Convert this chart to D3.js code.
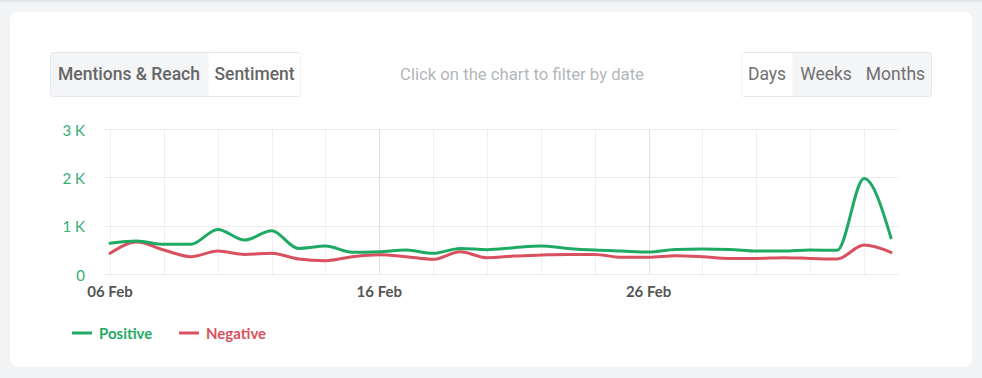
<!DOCTYPE html>
<html>
<head>
<meta charset="utf-8">
<script src="https://cdn.jsdelivr.net/npm/d3@7"></script>
<style>
    html, body { margin: 0; padding: 0; background: #f3f4f6; }
    svg { display: block; }
</style>
</head>
<body>
<svg id="chart" width="982" height="378"></svg>
<script>
"use strict";

// days since 06 Feb
const days = d3.range(0, 30);
const positive = [634, 682, 613, 613, 923, 702, 895, 530, 578, 448,
                  461, 496, 427, 530, 503, 544, 578, 530, 496, 475,
                  455, 509, 516, 509, 475, 475, 496, 489, 1977, 750];
const negative = [428, 660, 496, 358, 475, 406, 428, 310, 275, 358,
                  400, 358, 303, 461, 337, 372, 392, 406, 406, 344,
                  344, 378, 358, 323, 323, 337, 323, 310, 599, 448];
const yTicks = [0, 1000, 2000, 3000];
const xTickDays = [0, 10, 20];
const series = [
    { name: "Positive", values: positive, color: "#1faa64" },
    { name: "Negative", values: negative, color: "#d9505e" }
];
const leftButtons = ["Mentions & Reach", "Sentiment"];
const rightButtons = ["Days", "Weeks", "Months"];

const start = new Date(2023, 1, 6);
const dayDate = d => d3.timeDay.offset(start, d);

const svg = d3.select("#chart");

// top strip + card
svg.append("rect").attr("x", 0).attr("y", 0).attr("width", 982).attr("height", 2).attr("fill", "#e2e4e8");
svg.append("rect")
    .attr("x", 10).attr("y", 12).attr("width", 962).attr("height", 355)
    .attr("rx", 8).attr("fill", "#fff");

// button groups
function buttonGroup(labels, x0, widths, activeIdx, size, weight, color) {
    const g = svg.append("g");
    const total = d3.sum(widths);
    g.append("rect")
        .attr("x", x0 + 0.5).attr("y", 52.5).attr("width", total - 1).attr("height", 44)
        .attr("rx", 3).attr("fill", "#f4f5f7").attr("stroke", "#e6e7ea");
    let x = x0;
    labels.forEach((t, i) => {
        if (i === activeIdx) {
            g.append("rect")
                .attr("x", x + 0.5).attr("y", 53).attr("width", widths[i] - 1).attr("height", 43)
                .attr("rx", 2).attr("fill", "#fff");
        }
        g.append("text")
            .attr("x", x + widths[i] / 2).attr("y", 80)
            .attr("text-anchor", "middle")
            .style("font-family", "Roboto, sans-serif")
            .style("font-size", size)
            .style("font-weight", weight)
            .style("fill", color)
            .text(t);
        x += widths[i];
    });
}
buttonGroup(leftButtons, 50, [158, 93], 1, "17.5px", 500, "#666");
buttonGroup(rightButtons, 741, [52, 66, 73], 0, "17.5px", 400, "#707070");

svg.append("text")
    .attr("x", 522).attr("y", 80)
    .attr("text-anchor", "middle")
    .style("font-family", "Roboto, sans-serif")
    .style("font-size", "16.7px")
    .style("fill", "#b3b6bb")
    .text("Click on the chart to filter by date");

// scales
const x = d3.scaleTime().domain([dayDate(0), dayDate(29)]).range([110, 891]);
const y = d3.scaleLinear().domain([0, 3000]).range([274, 129]);

// grid
const grid = svg.append("g");
grid.selectAll(".hgrid").data(yTicks).enter()
    .append("line")
    .attr("class", "hgrid")
    .attr("x1", 103).attr("x2", 899)
    .attr("y1", d => Math.round(y(d)) + 0.5).attr("y2", d => Math.round(y(d)) + 0.5)
    .attr("stroke", "#ececec");
grid.selectAll(".vgrid").data(d3.range(0, 29, 2)).enter()
    .append("line")
    .attr("class", "vgrid")
    .attr("x1", d => Math.round(x(dayDate(d))) + 0.5).attr("x2", d => Math.round(x(dayDate(d))) + 0.5)
    .attr("y1", 129).attr("y2", 274)
    .attr("stroke", d => (d % 10 === 0 && d > 0) ? "#e0e0e0" : "#efefef");

// y axis labels
svg.selectAll(".ylab").data(yTicks).enter()
    .append("text")
    .attr("class", "ylab")
    .attr("x", 85).attr("y", d => y(d) + 6.5)
    .attr("text-anchor", "end")
    .style("font-family", "Lato, sans-serif")
    .style("font-size", "15px")
    .style("fill", "#33b172")
    .text(d => d === 0 ? "0" : (d / 1000) + " K");

// x axis labels
svg.selectAll(".xlab").data(xTickDays).enter()
    .append("text")
    .attr("class", "xlab")
    .attr("x", d => x(dayDate(d))).attr("y", 297)
    .attr("text-anchor", "middle")
    .style("font-family", "Lato, sans-serif")
    .style("font-size", "15px")
    .style("font-weight", "bold")
    .style("fill", "#555")
    .text(d => d3.timeFormat("%d %b")(dayDate(d)));

// lines
const line = d3.line()
    .x((d, i) => x(dayDate(days[i])))
    .y(d => y(d))
    .curve(d3.curveMonotoneX);
svg.selectAll(".series").data(series.slice().reverse()).enter()
    .append("path")
    .attr("class", "series")
    .attr("d", d => line(d.values))
    .attr("fill", "none")
    .attr("stroke", d => d.color)
    .attr("stroke-width", 3)
    .attr("stroke-linecap", "round");

// legend
const legend = svg.selectAll(".legend").data(series).enter()
    .append("g")
    .attr("class", "legend")
    .attr("transform", (d, i) => "translate(" + (72 + i * 107) + ",333)");
legend.append("line")
    .attr("x1", 0).attr("x2", 20).attr("y1", 0).attr("y2", 0)
    .attr("stroke", d => d.color).attr("stroke-width", 3);
legend.append("text")
    .attr("x", 27).attr("y", 5.5)
    .style("font-family", "Lato, sans-serif")
    .style("font-size", "15px")
    .style("font-weight", "bold")
    .style("fill", d => d.color)
    .text(d => d.name);
</script>
</body>
</html>
